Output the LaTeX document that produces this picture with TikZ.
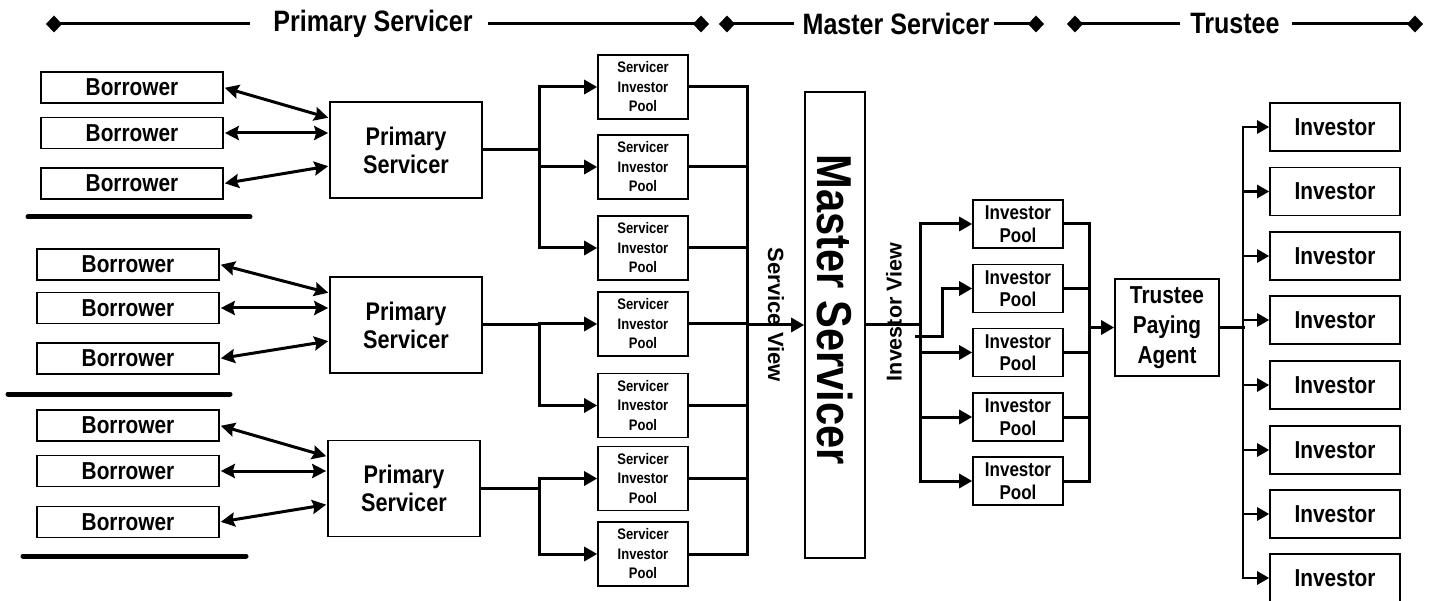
\documentclass[tikz,border=0pt]{standalone}
\usepackage{fontspec}
\setmainfont{Liberation Sans}[FakeStretch=0.85]
\newfontfamily\viewfont{Liberation Sans}
\usetikzlibrary{arrows.meta, calc}

\begin{document}
\begin{tikzpicture}[
    x=1pt, y=-1pt,
    box/.style={draw, line width=1.6pt, inner sep=0pt, align=center},
    borrower/.style={box, minimum width=182pt, minimum height=31pt, font=\fontsize{24.5}{27}\selectfont\bfseries},
    primary/.style={box, minimum width=152pt, minimum height=96pt, font=\fontsize{25.5}{28}\selectfont\bfseries},
    sip/.style={box, minimum width=90pt, minimum height=64pt, font=\fontsize{15.3}{19.5}\selectfont\bfseries},
    ipool/.style={box, minimum width=90pt, minimum height=48pt, font=\fontsize{20}{22.5}\selectfont\bfseries},
    payagent/.style={box, minimum width=104pt, minimum height=97pt, font=\fontsize{24.5}{30}\selectfont\bfseries},
    investor/.style={box, minimum width=130pt, minimum height=48pt, font=\fontsize{24.5}{27}\selectfont\bfseries},
    hdr/.style={inner sep=0pt, font=\fontsize{29.5}{31}\selectfont\bfseries},
    hline/.style={-{Diamond[length=16pt, width=17pt]}, line width=3pt},
    uline/.style={line width=5pt, line cap=round},
    conn/.style={line width=3pt, line cap=rect},
    arr/.style={-{Triangle[length=13pt, width=14pt]}, line width=3pt},
    arrsmall/.style={-{Triangle[length=12pt, width=13pt]}, line width=2.6pt},
    dbl/.style={{Stealth[length=14pt, width=14pt, inset=2pt]}-{Stealth[length=14pt, width=14pt, inset=2pt]}, line width=3pt, shorten <=1pt, shorten >=1pt}
]
    \useasboundingbox (0,0) rectangle (1437,601);

    % Headers
    \node[hdr] (hps) at (373,24) {Primary Servicer};
    \node[hdr] (hms) at (896,24) {Master Servicer};
    \node[hdr] (hts) at (1235,24) {Trustee};
    \coordinate (hpsl) at (46,24);
    \coordinate (hpsr) at (709,24);
    \coordinate (hmsl) at (719,24);
    \coordinate (hmsr) at (1044,24);
    \coordinate (htsl) at (1067,24);
    \coordinate (htsr) at (1423,24);
    \draw[hline, shorten <=23pt] (hps.west) -- (hpsl);
    \draw[hline, shorten <=15pt] (hps.east) -- (hpsr);
    \draw[hline, shorten <=8pt] (hms.west) -- (hmsl);
    \draw[hline, shorten <=4pt] (hms.east) -- (hmsr);
    \draw[hline, shorten <=10pt] (hts.west) -- (htsl);
    \draw[hline, shorten <=12pt] (hts.east) -- (htsr);

    % Borrowers
    \node[borrower] (b1) at (132,87.5) {Borrower};
    \node[borrower] (b2) at (132,133) {Borrower};
    \node[borrower] (b3) at (132,183.5) {Borrower};
    \node[borrower] (b4) at (128,264.5) {Borrower};
    \node[borrower] (b5) at (128,308) {Borrower};
    \node[borrower] (b6) at (128,358.5) {Borrower};
    \node[borrower] (b7) at (128,425.5) {Borrower};
    \node[borrower] (b8) at (128,471) {Borrower};
    \node[borrower] (b9) at (128,522) {Borrower};

    % Group separators
    \draw[uline] (28,217) -- (250,217);
    \draw[uline] (8,394) -- (230,394);
    \draw[uline] (23,556) -- (246,556);

    % Primary servicers
    \node[primary] (ps1) at (406,150) {Primary\\Servicer};
    \node[primary] (ps2) at (406,325) {Primary\\Servicer};
    \node[primary] (ps3) at (404,488.5) {Primary\\Servicer};

    \draw[dbl] (b1.east) -- ([yshift=32pt]ps1.west);
    \draw[dbl] (b2.east) -- (b2.east -| ps1.west);
    \draw[dbl] (b3.east) -- ([yshift=-16pt]ps1.west);
    \draw[dbl] (b4.east) -- ([yshift=32pt]ps2.west);
    \draw[dbl] (b5.east) -- (b5.east -| ps2.west);
    \draw[dbl] (b6.east) -- ([yshift=-16pt]ps2.west);
    \draw[dbl] (b7.east) -- ([yshift=32pt]ps3.west);
    \draw[dbl] (b8.east) -- (b8.east -| ps3.west);
    \draw[dbl] (b9.east) -- ([yshift=-16pt]ps3.west);

    % Servicer investor pools
    \foreach \i/\y in {1/87,2/167,3/248,4/324,5/405.5,6/478.5,7/554}
        \node[sip] (sip\i) at (643,\y) {Servicer\\Investor\\Pool};

    \coordinate (j1) at (539,150);
    \coordinate (j2) at (539,325);
    \coordinate (j3) at (539,488.5);
    \draw[conn] (ps1.east) -- (j1);
    \draw[conn] (ps2.east) -- (j2);
    \draw[conn] (ps3.east) -- (j3);
    \foreach \k in {1,2,3} \draw[arr] (j1) |- (sip\k.west);
    \foreach \k in {4,5} \draw[arr] (j2) |- (sip\k.west);
    \foreach \k in {6,7} \draw[arr] (j3) |- (sip\k.west);

    % Master servicer
    \node[box, minimum width=60pt, minimum height=466pt] (ms) at (835,325) {};
    \node[rotate=-90, font=\fontsize{49}{52}\selectfont\bfseries] (mst) at (835,310) {Master Servicer};
    \node[rotate=-90, font=\viewfont\fontsize{22}{24}\selectfont\bfseries] (svw) at (776,315) {Service View};
    \node[rotate=90, font=\viewfont\fontsize{21.5}{24}\selectfont\bfseries] (ivw) at (894,312) {Investor View};

    \coordinate (sv) at (747,325);
    \foreach \k in {1,...,7} \draw[conn] (sip\k.east) -- (sip\k.east -| sv);
    \draw[conn] (sip1.east -| sv) -- (sip7.east -| sv);
    \draw[arr] (sv) -- (ms.west);

    % Investor pools
    \foreach \i/\y in {1/224,2/288.5,3/352.5,4/417,5/481}
        \node[ipool] (ip\i) at (1018,\y) {Investor\\Pool};

    \coordinate (iv) at (920,325);
    \coordinate (jog) at (915,337);
    \draw[conn] (ms.east) -- (iv);
    \draw[conn] (ip1.west -| iv) -- (ip5.west -| iv);
    \foreach \k in {1,3,4,5} \draw[arr] (ip\k.west -| iv) -- (ip\k.west);
    \draw[arr] (jog) -- ++(27,0) |- (ip2.west);

    % Trustee paying agent
    \node[payagent] (tpa) at (1167,327.5) {Trustee\\Paying\\Agent};
    \coordinate (tb) at (1089,327.5);
    \foreach \k in {1,...,5} \draw[conn] (ip\k.east) -- (ip\k.east -| tb);
    \draw[conn] (ip1.east -| tb) -- (ip5.east -| tb);
    \draw[arr] (tb) -- (tpa.west);

    % Investors
    \foreach \i/\y in {1/127,2/191.5,3/256,4/320,5/385,6/450,7/514,8/578}
        \node[investor] (inv\i) at (1335,\y) {Investor};

    \coordinate (ti) at (1243,327.5);
    \draw[conn] (tpa.east) -- (ti);
    \draw[conn, line width=2.6pt] (inv1.west -| ti) -- (inv8.west -| ti);
    \foreach \k in {1,...,8} \draw[arrsmall] (inv\k.west -| ti) -- (inv\k.west);
\end{tikzpicture}
\end{document}
